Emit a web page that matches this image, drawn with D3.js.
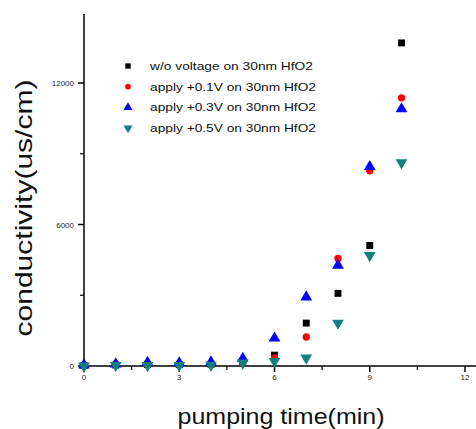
<!DOCTYPE html>
<html>
<head>
<meta charset="utf-8">
<script src="https://cdn.jsdelivr.net/npm/d3@7"></script>
<style>
body { margin: 0; background: #fff; }
svg { display: block; font-family: Arial, "Liberation Sans", sans-serif; }
</style>
</head>
<body>
<svg id="chart" width="476" height="429"></svg>
<script>
var minutes = [0, 1, 2, 3, 4, 5, 6, 7, 8, 9, 10];
var noVoltage = [20, 40, 60, 60, 70, 180, 460, 1820, 3080, 5110, 13700];
var apply01 = [10, 90, 50, 60, 60, 150, 340, 1230, 4560, 8280, 11370];
var apply03 = [40, 80, 150, 130, 170, 320, 1180, 2920, 4270, 8450, 10900];
var apply05 = [0, 30, 30, 30, 40, 130, 200, 340, 1820, 4690, 8620];
var seriesNames = ["w/o voltage on 30nm HfO2", "apply +0.1V on 30nm HfO2",
	"apply +0.3V on 30nm HfO2", "apply +0.5V on 30nm HfO2"];
var xTicks = [0, 3, 6, 9, 12];
var yTicks = [0, 6000, 12000];

var series = [
	{ name: seriesNames[0], values: noVoltage, color: "#000000", shape: "square" },
	{ name: seriesNames[1], values: apply01, color: "#ff0000", shape: "circle" },
	{ name: seriesNames[2], values: apply03, color: "#0000ff", shape: "up" },
	{ name: seriesNames[3], values: apply05, color: "#138080", shape: "down" }
];

var svg = d3.select("#chart");
var x = d3.scaleLinear().domain([0, 12]).range([84, 465]);
var y = d3.scaleLinear().domain([0, 12000]).range([366, 83]);

function marker(shape, small) {
	var k = small ? 0.6 : 1;
	if (shape == "square") return d3.symbol().type(d3.symbolSquare).size(48 * k)();
	if (shape == "circle") return d3.symbol().type(d3.symbolCircle).size(42 * k)();
	return d3.symbol().type(d3.symbolTriangle).size(60 * k)();
}

// axes
svg.append("line").attr("x1", 84).attr("x2", 476).attr("y1", 366).attr("y2", 366)
	.attr("stroke", "#000").attr("stroke-width", 1.5);
svg.append("line").attr("x1", 84).attr("x2", 84).attr("y1", 366).attr("y2", 14)
	.attr("stroke", "#000").attr("stroke-width", 1.5);

var xAxis = svg.append("g").attr("transform", "translate(0,366)");
xAxis.selectAll("line.major").data(xTicks).enter().append("line")
	.attr("x1", function(d) { return x(d); }).attr("x2", function(d) { return x(d); })
	.attr("y1", 0).attr("y2", 6).attr("stroke", "#000").attr("stroke-width", 1.5);
xAxis.selectAll("line.minor").data([1.5, 4.5, 7.5, 10.5]).enter().append("line")
	.attr("x1", function(d) { return x(d); }).attr("x2", function(d) { return x(d); })
	.attr("y1", 0).attr("y2", 4).attr("stroke", "#000").attr("stroke-width", 1.2);
xAxis.selectAll("text").data(xTicks).enter().append("text")
	.attr("x", function(d) { return x(d); }).attr("y", 14)
	.attr("text-anchor", "middle").attr("font-size", 8).attr("fill", "#222")
	.text(function(d) { return d; });

var yAxis = svg.append("g").attr("transform", "translate(84,0)");
yAxis.selectAll("line.major").data(yTicks).enter().append("line")
	.attr("x1", -6).attr("x2", 0)
	.attr("y1", function(d) { return y(d); }).attr("y2", function(d) { return y(d); })
	.attr("stroke", "#000").attr("stroke-width", 1.5);
yAxis.selectAll("line.minor").data([3000, 9000]).enter().append("line")
	.attr("x1", -4).attr("x2", 0)
	.attr("y1", function(d) { return y(d); }).attr("y2", function(d) { return y(d); })
	.attr("stroke", "#000").attr("stroke-width", 1.2);
yAxis.selectAll("text").data(yTicks).enter().append("text")
	.attr("x", -10).attr("y", function(d) { return y(d) + 3; })
	.attr("text-anchor", "end").attr("font-size", 8).attr("fill", "#222")
	.text(function(d) { return d; });

// points
var groups = svg.selectAll("g.series").data(series).enter().append("g")
	.attr("class", "series").attr("fill", function(d) { return d.color; });
groups.selectAll("path").data(function(d) {
		return d.values.map(function(v, i) { return { t: minutes[i], v: v, shape: d.shape }; });
	})
	.enter().append("path")
	.attr("d", function(d) { return marker(d.shape); })
	.attr("transform", function(d) {
		return "translate(" + x(d.t) + "," + y(d.v) + ")" + (d.shape == "down" ? " rotate(180)" : "");
	});

// legend
var legend = svg.selectAll("g.legend").data(series).enter().append("g")
	.attr("class", "legend")
	.attr("transform", function(d, i) { return "translate(128," + (66 + i * 20.7) + ")"; });
legend.append("path")
	.attr("d", function(d) { return marker(d.shape, true); })
	.attr("fill", function(d) { return d.color; })
	.attr("transform", function(d) { return d.shape == "down" ? "rotate(180)" : ""; });
legend.append("text")
	.attr("x", 22).attr("y", 4).attr("font-size", 11).attr("fill", "#111")
	.attr("lengthAdjust", "spacingAndGlyphs")
	.attr("textLength", function(d, i) { return [163, 166, 166, 166][i]; })
	.text(function(d) { return d.name; });

// axis titles
svg.append("text")
	.attr("transform", "translate(32,208) rotate(-90)")
	.attr("text-anchor", "middle").attr("font-size", 24).attr("fill", "#111")
	.attr("lengthAdjust", "spacingAndGlyphs").attr("textLength", 257)
	.text("conductivity(us/cm)");
svg.append("text")
	.attr("x", 281).attr("y", 424)
	.attr("text-anchor", "middle").attr("font-size", 22).attr("fill", "#111")
	.attr("lengthAdjust", "spacingAndGlyphs").attr("textLength", 207)
	.text("pumping time(min)");
</script>
</body>
</html>
